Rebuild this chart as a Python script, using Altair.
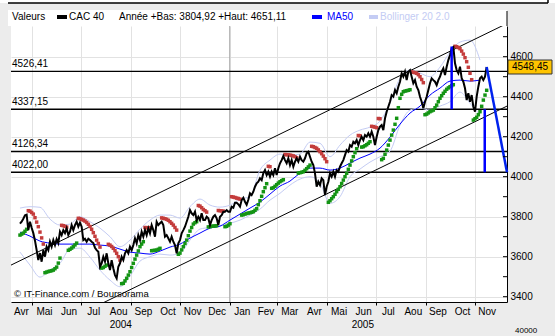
import altair as alt
import pandas as pd

# ---------------- data ----------------
close_values = [
    3765, 3775, 3790, 3807, 3810, 3733, 3775, 3745, 3718, 3680,
    3633, 3583, 3618, 3575, 3633, 3600, 3650, 3633, 3675, 3650,
    3683, 3658, 3688, 3668, 3725, 3708, 3733, 3718, 3742, 3708,
    3725, 3758, 3733, 3758, 3775, 3750, 3770, 3750, 3683, 3690,
    3675, 3690, 3683, 3675, 3668, 3645, 3633, 3625, 3550, 3567,
    3600, 3575, 3617, 3567, 3533, 3583, 3542, 3508, 3492, 3550,
    3567, 3600, 3583, 3617, 3633, 3617, 3650, 3633, 3658, 3692,
    3667, 3708, 3683, 3725, 3700, 3733, 3708, 3742, 3717, 3758,
    3733, 3700, 3775, 3758, 3767, 3775, 3758, 3700, 3708, 3692,
    3675, 3700, 3675, 3658, 3617, 3667, 3683, 3717, 3733, 3750,
    3775, 3800, 3833, 3817, 3808, 3825, 3783, 3800, 3783, 3817,
    3783, 3783, 3800, 3792, 3758, 3783, 3800, 3808, 3792, 3758,
    3800, 3808, 3825, 3825, 3833, 3825, 3825, 3850, 3845, 3870,
    3870, 3862, 3850, 3883, 3895, 3875, 3860, 3885, 3917, 3908,
    3925, 3950, 3967, 3975, 3992, 3983, 4017, 4033, 4008, 4025,
    4000, 4025, 4008, 4042, 4008, 4042, 4067, 4083, 4103, 4083,
    4067, 4092, 4058, 4083, 4050, 4075, 4092, 4075, 4100, 4083,
    4075, 4092, 4117, 4125, 4100, 4075, 4058, 4017, 3950, 3975,
    3958, 3992, 3983, 3908, 3950, 3975, 4017, 4000, 4025, 4000,
    4033, 4025, 4050, 4067, 4083, 4108, 4133, 4125, 4158, 4150,
    4175, 4167, 4183, 4158, 4183, 4200, 4183, 4208, 4200, 4217,
    4200, 4225, 4200, 4158, 4200, 4233, 4250, 4258, 4233, 4292,
    4325, 4350, 4375, 4408, 4400, 4433, 4417, 4450, 4475, 4517,
    4500, 4525, 4483, 4525, 4533, 4500, 4467, 4483, 4450, 4433,
    4400, 4375, 4342, 4375, 4400, 4433, 4467, 4492, 4483, 4475,
    4458, 4483, 4500, 4525, 4542, 4508, 4550, 4583, 4608, 4642,
    4648, 4567, 4533, 4517, 4550, 4492, 4475, 4442, 4383, 4417,
    4375, 4408, 4350, 4325, 4400, 4450, 4492, 4500, 4483, 4500, 4548.45,
]
# MA50, Bollinger bands: one value every 6th point of the price grid
ma50_values = [
    3723, 3703, 3678, 3668, 3663, 3663, 3663, 3663, 3658, 3653,
    3638, 3623, 3618, 3613, 3628, 3648, 3663, 3693, 3718, 3743,
    3753, 3783, 3813, 3843, 3873, 3913, 3953, 3978, 4018, 4043,
    4043, 4033, 4043, 4068, 4093, 4113, 4143, 4198, 4263, 4318,
    4353, 4408, 4443, 4478, 4483, 4478, 4483,
]
boll_upper = [
    3843, 3850, 3847, 3788, 3758, 3763, 3800, 3775, 3743, 3700,
    3650, 3683, 3738, 3783, 3808, 3808, 3793, 3850, 3888, 3858,
    3848, 3858, 3888, 3900, 4033, 4083, 4113, 4108, 4113, 4173,
    4167, 4100, 4158, 4208, 4233, 4248, 4278, 4368, 4493, 4533,
    4518, 4500, 4548, 4623, 4673, 4683, 4583,
]
boll_lower = [
    3623, 3558, 3498, 3533, 3567, 3638, 3643, 3598, 3533, 3483,
    3450, 3503, 3578, 3600, 3613, 3608, 3618, 3683, 3738, 3746,
    3753, 3767, 3783, 3808, 3838, 3883, 3917, 3958, 3988, 4000,
    3968, 3867, 3900, 4000, 4038, 4073, 4100, 4128, 4258, 4333,
    4343, 4333, 4353, 4375, 4423, 4367, 4308,
]
# Parabolic SAR, one dot per point of the price grid, in runs: R = above (red), G = below (green)
sar_segments = [
    ("G", [3708, 3713, 3718, 3727, 3737]),
    ("R", [3830, 3828, 3821, 3813, 3795, 3773, 3750, 3723, 3694, 3663]),
    ("G", [3520, 3523, 3526, 3528, 3530, 3533, 3540, 3548, 3568, 3593]),
    ("R", [3757, 3755, 3752, 3748]),
    ("G", [3632, 3637, 3643, 3650, 3659, 3668]),
    ("R", [3792, 3790, 3787, 3783, 3778, 3771, 3762, 3751, 3737, 3720, 3702, 3683, 3666, 3648]),
    ("G", [3543, 3546, 3552, 3558]),
    ("R", [3662, 3658, 3651, 3642, 3630, 3617, 3600, 3583]),
    ("G", [3465, 3467, 3479, 3492, 3508, 3525, 3546, 3567, 3588, 3608, 3629, 3650, 3663, 3675]),
    ("R", [3746, 3745, 3745, 3745]),
    ("G", [3630, 3631, 3632, 3633, 3637, 3642]),
    ("R", [3794, 3792, 3790, 3787, 3782, 3775, 3767, 3758, 3746, 3733]),
    ("G", [3612, 3618, 3634, 3650, 3666, 3683, 3705, 3728, 3746, 3763, 3770, 3775]),
    ("R", [3856, 3853, 3845, 3836, 3830, 3823]),
    ("G", [3749, 3750, 3752, 3753, 3754, 3755]),
    ("R", [3831, 3830, 3829, 3828]),
    ("G", [3750, 3752, 3758, 3765]),
    ("R", [3900, 3898, 3896, 3893, 3891, 3888]),
    ("G", [3808, 3810, 3813, 3816, 3818, 3820, 3822, 3825, 3832, 3840, 3860, 3880, 3902, 3925,
           3945, 3965]),
    ("R", [4052, 4050]),
    ("G", [3942, 3945, 3952, 3960, 3968, 3975, 3980, 3985]),
    ("R", [4111, 4110, 4109, 4108, 4106, 4104, 4100, 4095]),
    ("G", [4018, 4020, 4022, 4025, 4032, 4040, 4049, 4058]),
    ("R", [4152, 4150, 4146, 4142, 4134, 4125, 4115, 4103, 4090, 4075]),
    ("G", [3872, 3880, 3890, 3900, 3912, 3925, 3937, 3950, 3966, 3983, 4000, 4017, 4037, 4058,
           4079, 4100, 4120, 4140]),
    ("R", [4206, 4205]),
    ("G", [4148, 4150, 4155, 4160, 4167, 4175]),
    ("R", [4252, 4250, 4248, 4245, 4291, 4290]),
    ("G", [4085, 4092, 4112, 4133, 4158, 4183, 4208, 4233, 4262, 4292, 4345, 4392, 4412, 4425,
           4428, 4430, 4432, 4435]),
    ("R", [4524, 4522, 4520, 4517, 4510, 4500, 4486, 4470]),
    ("G", [4310, 4313, 4319, 4325, 4329, 4333, 4345, 4358, 4375, 4392, 4405, 4417, 4427, 4437,
           4444, 4450, 4455, 4460]),
    ("R", [4652, 4650, 4646, 4640, 4628, 4613, 4595, 4575, 4547, 4517, 4485]),
    ("G", [4283, 4290, 4297, 4310, 4325, 4352, 4383, 4408, 4432]),
]
level_values = [4526.41, 4337.15, 4126.34, 4022.00]
level_labels = ["4526,41", "4337,15", "4126,34", "4022,00"]
month_labels = ["Avr", "Mai", "Jun", "Jul", "Aou", "Sep", "Oct", "Nov", "Dec",
                "Jan", "Fev", "Mar", "Avr", "Mai", "Jun", "Jul", "Aou", "Sep", "Oct", "Nov"]
year_labels = ["2004", "2005"]
y_label_values = [3400, 3600, 3800, 4000, 4200, 4400, 4600]
y_minor_values = [3400, 3500, 3600, 3700, 3800, 3900, 4000, 4100, 4200, 4300, 4400, 4500, 4600, 4700]
channel_upper = [3558, 4766]
channel_lower = [3145, 4353]
last_close = 4548.45
projection_target = 4022.00
bar_dates = ["2005-10-03", "2005-11-13"]
bar_top = [4651.11, 4337.15]
bar_bottom = [4337.15, 4022.00]

# ---------------- scales / layout ----------------
D0 = pd.Timestamp("2004-04-05")
D1 = pd.Timestamp("2005-12-10 14:00")
grid = pd.date_range("2004-04-16 03:00", "2005-11-15 09:30", periods=len(close_values))
W, H = 496, 276
F = "Liberation Sans"
RED, GREEN, BLUE, LAV = "#C43C3C", "#149414", "#0000FF", "#C4CCF4"

xs = alt.Scale(domain=[D0.isoformat(), D1.isoformat()])
ys = alt.Scale(domain=[3373.5, 4753.5], nice=False, zero=False)

month_starts = pd.date_range("2004-05-01", "2005-11-01", freq="MS")
x_axis = alt.Axis(values=[alt.DateTime(year=d.year, month=d.month, date=1) for d in month_starts],
                  labels=False, tickSize=3, tickColor="black", domainColor="black",
                  grid=True, gridColor="#E2E2E2", title=None)
y_axis = alt.Axis(orient="right", values=y_label_values, format="d", labelFont=F,
                  labelFontSize=10, labelColor="black", labelPadding=3, ticks=False,
                  domainColor="black", grid=True, gridColor="#E2E2E2", title=None)
X = alt.X("date:T", scale=xs, axis=x_axis)
Y = alt.Y("value:Q", scale=ys, axis=y_axis)

one = pd.DataFrame({"k": [0]})


def text(s, x, y, color="black", size=10, align="left", baseline="middle"):
    return alt.Chart(one).mark_text(text=s, align=align, baseline=baseline, font=F,
                                    fontSize=size, color=color).encode(
        x=alt.value(x), y=alt.value(y))


def box(x1, x2, y1, y2, color):
    return alt.Chart(one).mark_rect(color=color).encode(
        x=alt.value(x1), x2=alt.value(x2), y=alt.value(y1), y2=alt.value(y2))


layers = []
# page frame pieces above the chart
layers.append(box(-11, W + 48, -26, -23, "white"))
layers.append(alt.Chart(one).mark_rule(color="black", strokeWidth=1.5).encode(
    x=alt.value(-3), x2=alt.value(537), y=alt.value(-23)))
layers.append(alt.Chart(one).mark_rule(color="black", strokeWidth=1.5).encode(
    x=alt.value(537), y=alt.value(-26), y2=alt.value(-23)))
# white band behind legend row
layers.append(box(-3, W, -16, 0, "white"))

# year boundary gridline
layers.append(alt.Chart(pd.DataFrame({"date": ["2005-01-01"]})).mark_rule(
    color="#A8A8A8", strokeWidth=1).encode(x=alt.X("date:T", scale=xs)))

# level lines
lv = pd.DataFrame({"value": level_values, "label": level_labels})
layers.append(alt.Chart(lv).mark_rule(color="black", strokeWidth=1.4).encode(
    y=Y, x=alt.value(0), x2=alt.value(W)))
layers.append(alt.Chart(lv).mark_text(align="left", baseline="bottom", font=F, fontSize=10,
                                      dy=-2, color="black").encode(
    y=alt.Y("value:Q", scale=ys), x=alt.value(1), text="label:N"))

# Bollinger bands
bdates = grid[::6][:len(boll_upper)]
for vals in (boll_upper, boll_lower):
    d = pd.DataFrame({"date": bdates, "value": vals})
    layers.append(alt.Chart(d).mark_line(color=LAV, strokeWidth=1, interpolate="monotone",
                                         clip=True).encode(x=X, y=Y))

# MA50
ma = pd.DataFrame({"date": grid[::6][:len(ma50_values)], "value": ma50_values})
layers.append(alt.Chart(ma).mark_line(color=BLUE, strokeWidth=1, interpolate="monotone").encode(x=X, y=Y))

# channel lines
for vals in (channel_upper, channel_lower):
    d = pd.DataFrame({"date": [D0.isoformat(), D1.isoformat()], "value": vals})
    layers.append(alt.Chart(d).mark_line(color="black", strokeWidth=1, clip=True).encode(x=X, y=Y))

# parabolic SAR
sar_side, sar_val = [], []
for side, vals in sar_segments:
    sar_side += [side] * len(vals)
    sar_val += vals
sar = pd.DataFrame({"date": grid[:len(sar_val)], "value": sar_val, "side": sar_side})
layers.append(alt.Chart(sar).mark_square(size=12, opacity=1).encode(
    x=X, y=Y,
    color=alt.Color("side:N", scale=alt.Scale(domain=["R", "G"], range=[RED, GREEN]), legend=None)))

# close
cl = pd.DataFrame({"date": grid, "value": close_values})
layers.append(alt.Chart(cl).mark_line(color="black", strokeWidth=2).encode(x=X, y=Y))

# blue vertical bars
bd = pd.DataFrame({"date": bar_dates, "value": bar_top, "value2": bar_bottom})
layers.append(alt.Chart(bd).mark_rule(color=BLUE, strokeWidth=2.5).encode(
    x=X, y=Y, y2="value2:Q"))
# projection
pj = pd.DataFrame({"date": [grid[-1], D1], "value": [last_close, projection_target]})
layers.append(alt.Chart(pj).mark_line(color="#0022EE", strokeWidth=2.5).encode(x=X, y=Y))

# y ticks pointing inward, axis line extension
layers.append(alt.Chart(pd.DataFrame({"value": y_minor_values})).mark_rule(color="black").encode(
    y=alt.Y("value:Q", scale=ys), x=alt.value(W - 4), x2=alt.value(W)))
layers.append(alt.Chart(one).mark_rule(color="black").encode(
    x=alt.value(W), y=alt.value(-15), y2=alt.value(0)))

# month and year labels
mids = []
for i in range(len(month_labels)):
    s = pd.Timestamp(2004, 4, 1) + pd.DateOffset(months=i)
    e = s + pd.DateOffset(months=1)
    s2, e2 = max(s, D0), min(e, D1)
    mids.append((s2 + (e2 - s2) / 2).isoformat())
ml = pd.DataFrame({"date": mids, "label": month_labels})
layers.append(alt.Chart(ml).mark_text(font=F, fontSize=10, baseline="middle", color="black").encode(
    x=alt.X("date:T", scale=xs), y=alt.value(H + 10), text="label:N"))
yl = pd.DataFrame({"date": ["2004-08-19", "2005-06-15"], "label": year_labels})
layers.append(alt.Chart(yl).mark_text(font=F, fontSize=10, baseline="middle", color="black").encode(
    x=alt.X("date:T", scale=xs), y=alt.value(H + 23), text="label:N"))

# legend row
layers += [
    text("Valeurs", 1, -9),
    box(46, 56, -11, -7, "black"),
    text("CAC 40", 58, -9),
    text("Année +Bas: 3804,92 +Haut: 4651,11", 108, -9),
    box(301, 311, -11, -7, BLUE),
    text("MA50", 316, -9, color=BLUE),
    box(358, 367, -11, -7, LAV),
    text("Bollinger 20 2.0", 369, -9, color=LAV),
    text("© IT-Finance.com / Boursorama", 3, H - 8, size=9.5),
    text("40000", W + 8, H + 33, size=8, baseline="bottom"),
]

# last price box
layers.append(alt.Chart(one).mark_rect(color="#FFC400", stroke="#333333", strokeWidth=1).encode(
    x=alt.value(W + 1), x2=alt.value(W + 45), y=alt.value(34), y2=alt.value(48)))
layers.append(text("4548,45", W + 23, 41, align="center"))

chart = alt.layer(*layers).properties(
    width=W, height=H,
    autosize=alt.AutoSizeParams(type="none"),
    padding={"left": 11, "top": 26, "right": 48, "bottom": 34},
    background="#ECECEC",
).configure_view(stroke=None, fill="white")

chart.save("out.html", embed_options={"renderer": "svg", "actions": False})
